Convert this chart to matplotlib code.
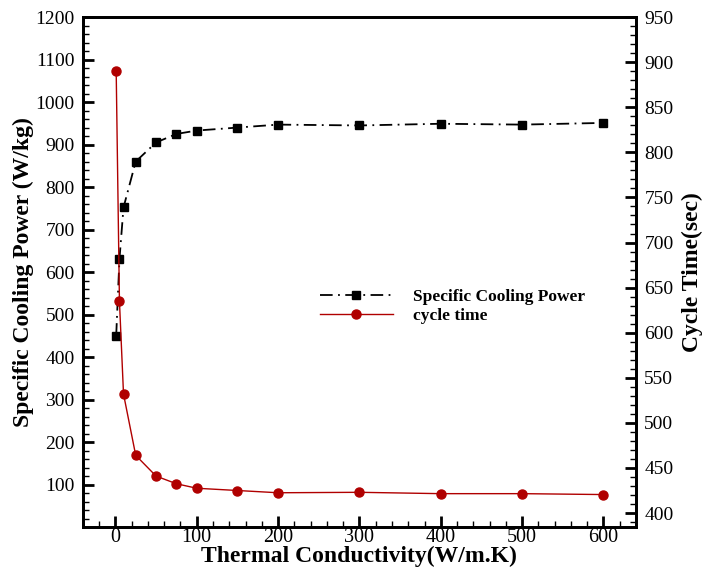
import matplotlib
matplotlib.use("Agg")
import matplotlib.pyplot as plt
from matplotlib.ticker import MultipleLocator

plt.rcParams['font.family'] = ['Liberation Serif', 'DejaVu Serif']

# data
conductivity = [1, 5, 10, 25, 50, 75, 100, 150, 200, 300, 400, 500, 600]
cooling_power = [450, 630, 752, 860, 905, 925, 933, 940, 947, 945, 949, 947, 951]
cycle_time = [890, 635, 532, 464, 441, 432.5, 427.5, 425, 422.5, 423, 421.5, 421.5, 420.5]

fig = plt.figure(figsize=(7.02, 5.70), dpi=100)
ax = fig.add_axes([0.118, 0.0754, 0.788, 0.8946])
ax2 = ax.twinx()

l1, = ax.plot(conductivity, cooling_power, color='black', linestyle=(0, (7, 3, 1, 3)),
              linewidth=1.3, marker='s', markersize=6, label='Specific Cooling Power')
l2, = ax2.plot(conductivity, cycle_time, color='#b00000', linestyle='-', linewidth=1.0,
               marker='o', markersize=6.5, label='cycle time')

ax.set_xlim(-40, 640)
ax.set_ylim(0, 1200)
ax2.set_ylim(384.5, 950)

ax.xaxis.set_major_locator(MultipleLocator(100))
ax.xaxis.set_minor_locator(MultipleLocator(20))
ax.yaxis.set_minor_locator(MultipleLocator(20))
ax2.yaxis.set_major_locator(MultipleLocator(50))
ax2.yaxis.set_minor_locator(MultipleLocator(10))

# left axis labels start at 100
ax.set_yticks(range(100, 1201, 100))

for a in (ax, ax2):
    for s in a.spines.values():
        s.set_linewidth(2)
    a.tick_params(which='major', direction='in', length=8, width=2, labelsize=14, pad=6)
    a.tick_params(which='minor', direction='in', length=4, width=1)

ax.tick_params(axis='x', which='both', top=False, pad=1, labelsize=14.5)
ax.tick_params(axis='y', which='both', right=False)
ax2.tick_params(axis='y', which='both', left=False)

ax.set_xlabel('Thermal Conductivity(W/m.K)', fontsize=17, fontweight='bold', labelpad=-1)
ax.set_ylabel('Specific Cooling Power (W/kg)', fontsize=17, fontweight='bold', labelpad=1)
ax2.set_ylabel('Cycle Time(sec)', fontsize=17, fontweight='bold', labelpad=6)

ax.legend(handles=[l1, l2], loc='upper left', bbox_to_anchor=(0.4, 0.497), frameon=False,
          prop={'size': 12.5, 'weight': 'bold'}, handlelength=4.2, labelspacing=0.15,
          handletextpad=1.2)

fig.savefig('out.png', dpi=100)
